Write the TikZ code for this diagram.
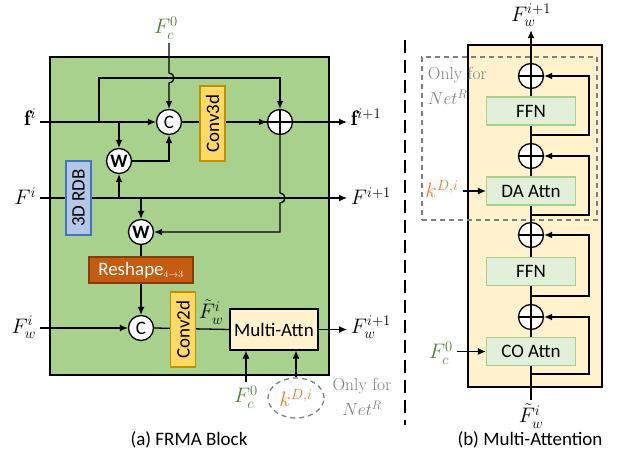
\documentclass[tikz,border=0pt]{standalone}
\usepackage{fix-cm}
\usepackage{fontspec}
\setsansfont{Carlito}
\usetikzlibrary{positioning,arrows.meta,shapes}

\definecolor{blockgreen}{HTML}{A9D18E}
\definecolor{convfill}{HTML}{FFD966}
\definecolor{convedge}{HTML}{BF9000}
\definecolor{rdbfill}{HTML}{B4C7E7}
\definecolor{rdbedge}{HTML}{4472C4}
\definecolor{reshfill}{HTML}{C55A11}
\definecolor{reshedge}{HTML}{843C0C}
\definecolor{attnfill}{HTML}{FFF2CC}
\definecolor{ffnfill}{HTML}{E2F0D9}
\definecolor{ffnedge}{HTML}{A9D18E}
\definecolor{fcgreen}{HTML}{548235}
\definecolor{korange}{HTML}{ED7D31}
\definecolor{onlygray}{HTML}{808080}

\begin{document}
\begin{tikzpicture}[x=1pt, y=1pt,
  font=\sffamily\fontsize{19}{21}\selectfont,
  line width=1.3pt,
  arr/.style={-{Latex[length=8pt,width=7pt]}},
  ml/.style={font=\fontsize{21}{23}\selectfont},
  cat/.style={circle, draw, fill=white, minimum size=25pt, inner sep=0pt},
  op/.style={cat, path picture={\draw (path picture bounding box.north) -- (path picture bounding box.south)
             (path picture bounding box.west) -- (path picture bounding box.east);}},
  conv/.style={rectangle, draw=convedge, fill=convfill, line width=1.2pt, rotate=90,
               minimum width=75pt, minimum height=25pt, inner sep=0pt},
  rdb/.style={conv, draw=rdbedge, fill=rdbfill, minimum width=74pt},
  resh/.style={rectangle, draw=reshedge, fill=reshfill, text=white, line width=1.2pt,
               minimum width=104pt, minimum height=26pt, inner sep=0pt},
  blk/.style={rectangle, draw=ffnedge, fill=ffnfill, line width=1.2pt,
              minimum width=89pt, minimum height=28pt, inner sep=0pt},
  onlyfor/.style={gray, dashed, dash pattern=on 5pt off 4pt, draw=onlygray},
  gtxt/.style={text=onlygray, font=\rmfamily\fontsize{17.5}{19}\selectfont},
  fc/.style={ml, text=fcgreen},
  kk/.style={ml, text=korange}
]
\useasboundingbox (0,0) rectangle (624,461);

% (a) FRMA block
\node[draw, fill=blockgreen, minimum width=279pt, minimum height=318pt] (frma) at (189.5,245) {};

\node[cat] (c1) at (169,339) {C};
\node[op]  (add1) at (280,339) {};
\node[cat, font=\sffamily\bfseries\fontsize{19}{21}\selectfont] (w1) at (119,300) {W};
\node[cat, font=\sffamily\bfseries\fontsize{19}{21}\selectfont] (w2) at (141,229) {W};
\node[cat] (c2) at (141,133) {C};
\node[rectangle, draw, fill=attnfill, line width=1.2pt, minimum width=88pt, minimum height=41pt, inner sep=0pt]
     (mattn) at (274,131.5) {Multi-Attn};

\node[ml, anchor=east] (fi) at (40,344) {$\mathbf{f}^{i}$};
\node[ml, anchor=west] (fo) at (347,344) {$\mathbf{f}^{i+1}$};
\node[ml, anchor=east] (Fi) at (40,265) {$F^{i}$};
\node[ml, anchor=west] (Fo) at (347,265) {$F^{i+1}$};
\node[ml, anchor=east] (Fwi) at (40,134) {$F_w^{i}$};
\node[ml, anchor=west] (Fwo) at (347,134) {$F_w^{i+1}$};
\node[fc] (fctop) at (166,433) {$F_c^0$};
\node[ml] (ftil) at (211,149) {$\tilde{F}_w^{i}$};
\node[fc] (fcbot) at (246,64) {$F_c^0$};
\node[ellipse, onlyfor, minimum width=56pt, minimum height=40pt, inner sep=0pt, text=korange, ml]
     (kl) at (296,63) {$k^{D,i}$};
\node[gtxt] (onlya) at (362,75) {Only for};
\node[gtxt] (neta) at (362,53) {$Net^R$};

\coordinate (byp) at (99,383);

% f^i path
\draw[arr] (fi.east |- c1) -- (c1);
\draw (c1) -- (add1);
\draw[arr] ([xshift=-12pt]add1.west) -- (add1.west);
\draw[arr] (add1) -- (add1 -| fo.west);
\draw[arr] (byp |- c1) -- (byp) -| (add1.north);
\draw[arr] (fctop.south -| c1) -- ([yshift=5pt]c1 |- byp) arc[start angle=90, end angle=-90, radius=5] -- (c1.north);
\draw[arr] (w1 |- c1) -- (w1.north);
\draw[arr] (w1.east) -| (c1.south);

% F^i path
\draw[arr] (Fi.east |- 0,263) -- (Fo.west |- 0,263);
\draw[arr] (w1 |- 0,263) -- (w1.south);
\draw[arr] (w2 |- 0,263) -- (w2.north);
\draw[arr] (add1.south) -- ([yshift=5pt]add1 |- 0,263) arc[start angle=90, end angle=-90, radius=5] |- (w2.east);
\node[rdb] (rdb) at (78.5,263) {3D RDB};

% F_w path
\node[resh] (resh) at (141,191) {Reshape$_{\scriptscriptstyle 4\rightarrow3}$};
\draw (w2.south) -- (resh.north);
\draw[arr] (resh.south) -- (c2.north);
\draw[arr] (Fwi.east |- c2) -- (c2.west);
\draw (c2.east) -- (mattn.west);
\draw[arr] (mattn.east) -- (mattn -| Fwo.west);
\draw[arr] (fcbot.north) -- (fcbot.north |- mattn.south);
\draw[arr] (kl.north) -- (kl.north |- mattn.south);

\node[conv] (conv3) at (212.5,337.5) {Conv3d};
\node[conv] (conv2) at (183,131.5) {Conv2d};

\node (capa) at (189,21) {(a) FRMA Block};

\draw[line width=1.8pt, dash pattern=on 13pt off 7pt] (405,421) -- (405,36);

% (b) Multi-Attention
\node[draw, fill=attnfill, minimum width=134pt, minimum height=342pt] (mabox) at (535,245) {};
\node[onlyfor, minimum width=175pt, minimum height=163pt, line width=1.2pt] (onlybox) at (509.5,322.5) {};
\node[gtxt, anchor=west] (onlyb) at (424,386) {Only for};
\node[gtxt, anchor=west] (netb) at (424,364) {$Net^R$};

\node[ml] (fwout) at (531,446) {$F_w^{i+1}$};
\node[ml] (fwin) at (531,45) {$\tilde{F}_w^{i}$};
\draw[arr] (fwin.north) -- (fwout.south);

\node[op]  (opa) at (531,385) {};
\node[blk] (ffna) at (531,350) {FFN};
\node[op]  (opb) at (531,305) {};
\node[blk] (daattn) at (531,270) {DA Attn};
\node[op]  (opc) at (531,226) {};
\node[blk] (ffnb) at (531,189.5) {FFN};
\node[op]  (opd) at (531,144) {};
\node[blk] (coattn) at (531,109.5) {CO Attn};

\coordinate (ta) at (531,326);
\coordinate (tb) at (531,246);
\coordinate (tc) at (531,165);
\coordinate (td) at (531,87);
\draw[arr] (ta) -- ++(58,0) |- (opa.east);
\draw[arr] (tb) -- ++(58,0) |- (opb.east);
\draw[arr] (tc) -- ++(58,0) |- (opc.east);
\draw[arr] (td) -- ++(58,0) |- (opd.east);

\node[kk] (kb) at (442,272) {$k^{D,i}$};
\draw[arr] (kb.east |- daattn) -- (daattn.west);
\node[fc] (fcr) at (441,108) {$F_c^0$};
\draw[arr] (fcr.east |- coattn) -- (coattn.west);

\node (capb) at (530,21) {(b) Multi-Attention};
\end{tikzpicture}
\end{document}
